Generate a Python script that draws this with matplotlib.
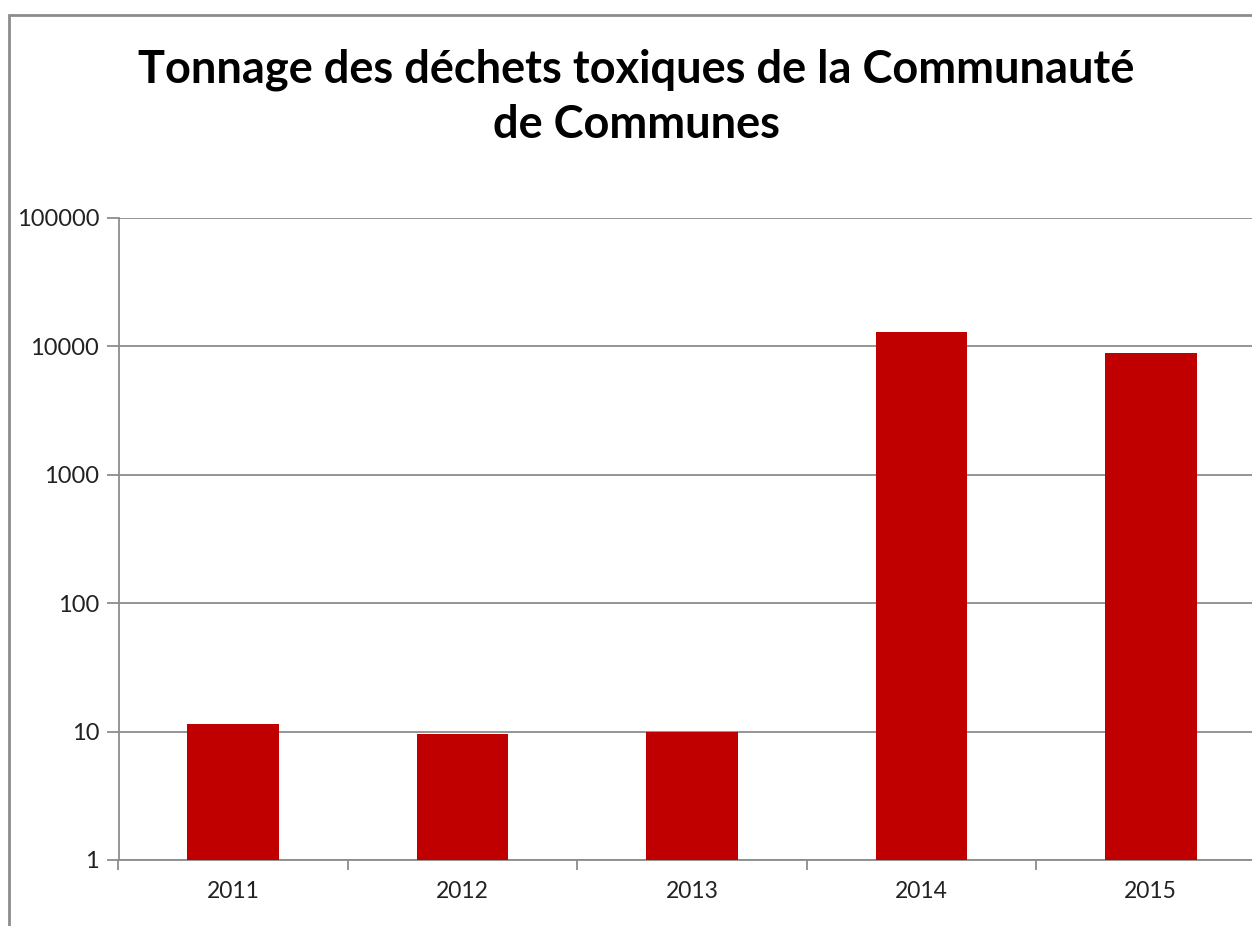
import matplotlib.pyplot as plt
from matplotlib.patches import Rectangle

plt.rcParams['font.family'] = ['Lato', 'DejaVu Sans']

# Data (log scale)
years = ['2011', '2012', '2013', '2014', '2015']
tonnage = [11.5, 9.6, 10.0, 12900, 8850]
ytick_values = [1, 10, 100, 1000, 10000, 100000]
ytick_labels = ['1', '10', '100', '1000', '10000', '100000']

fig = plt.figure(figsize=(12.52, 9.26), dpi=100)

# chart frame (runs off the right and bottom edges)
fig.patches.append(Rectangle((9 / 1252, -0.05), 1.2, (926 - 15) / 926 + 0.05,
                             transform=fig.transFigure, fill=False,
                             edgecolor='#8c8c8c', linewidth=2))

ax = fig.add_axes([118.5 / 1252, (926 - 860) / 926, 1147 / 1252, 642 / 926])
x = range(len(years))
ax.bar(x, tonnage, width=0.4, color='#c00000', zorder=3)

ax.set_yscale('log')
ax.set_ylim(1, 100000)
ax.set_xlim(-0.5, len(years) - 0.5)
ax.set_yticks(ytick_values)
ax.set_yticklabels(ytick_labels)
ax.minorticks_off()
ax.yaxis.grid(True, color='#8c8c8c', linewidth=1.3, zorder=0)

ax.set_xticks(x)
ax.set_xticklabels(years)
ax.set_xticks([i + 0.5 for i in range(-1, len(years))], minor=True)
ax.tick_params(axis='x', which='major', length=0, pad=15, labelsize=16.5, labelcolor='#222222')
ax.tick_params(axis='x', which='minor', length=7, width=1.3, color='#8c8c8c')
ax.tick_params(axis='y', length=9, width=1.3, color='#8c8c8c', labelsize=17, labelcolor='#222222', pad=5)

for s in ['top', 'right']:
    ax.spines[s].set_visible(False)
for s in ['left', 'bottom']:
    ax.spines[s].set_color('#8c8c8c')
    ax.spines[s].set_linewidth(1.3)

fig.text(636 / 1252, 1 - 97 / 926, 'Tonnage des déchets toxiques de la Communauté\nde Communes',
         ha='center', va='center', fontsize=32.5, fontweight='bold', linespacing=1.38)

fig.savefig('out.png', dpi=100)
